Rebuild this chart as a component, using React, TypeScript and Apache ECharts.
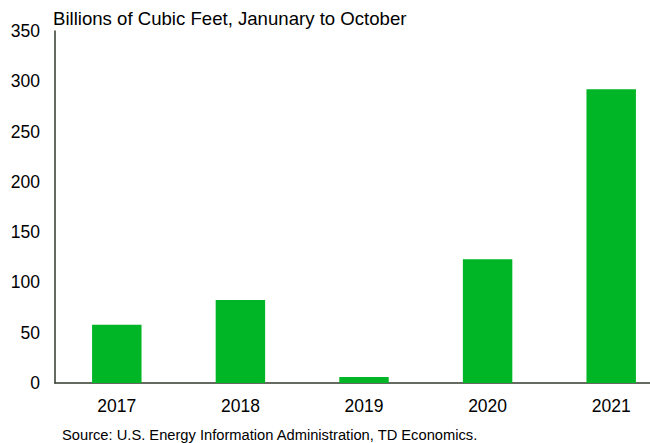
import React, { useEffect, useRef } from "react";
import * as echarts from "echarts";

const categories = ["2017", "2018", "2019", "2020", "2021"];
const values = [58, 82.5, 6, 123, 292];
const yTicks = { min: 0, max: 350, interval: 50 };
const titleText = "Billions of Cubic Feet, Janunary to October";
const sourceText = "Source: U.S. Energy Information Administration, TD Economics.";

export default function App() {
  const ref = useRef<HTMLDivElement>(null);
  useEffect(() => {
    if (!ref.current) return;
    const chart = echarts.init(ref.current, undefined, { renderer: "svg" });
    const font = "'Liberation Sans', Arial, sans-serif";
    chart.setOption({
      animation: false,
      backgroundColor: "#ffffff",
      textStyle: { fontFamily: font },
      grid: { left: 55, top: 31, bottom: 60, right: 0, containLabel: false },
      graphic: [
        {
          type: "text",
          left: 53,
          top: 9,
          style: { text: titleText, font: `18.6px ${font}`, fill: "#000" },
        },
        {
          type: "text",
          left: 62,
          top: 427,
          style: { text: sourceText, font: `14.7px ${font}`, fill: "#000" },
        },
      ],
      xAxis: {
        type: "category",
        data: categories,
        axisLine: { lineStyle: { color: "#333a2e", width: 1.5 } },
        axisTick: { show: false },
        axisLabel: { color: "#000", fontSize: 17.5, margin: 14, fontFamily: font },
      },
      yAxis: {
        type: "value",
        min: yTicks.min,
        max: yTicks.max,
        interval: yTicks.interval,
        axisLine: { show: true, lineStyle: { color: "#333a2e", width: 1.5 } },
        axisTick: { show: false },
        splitLine: { show: false },
        axisLabel: { color: "#000", fontSize: 17.5, margin: 15, fontFamily: font },
      },
      series: [
        {
          type: "bar",
          data: values,
          barWidth: "40%",
          itemStyle: { color: "#00b526" },
        },
      ],
    });
    return () => chart.dispose();
  }, []);
  return (
    <div style={{ position: "fixed", left: 0, top: 0, width: 650, height: 443, overflow: "hidden" }}>
      <div ref={ref} style={{ width: 673, height: 443 }} />
    </div>
  );
}
